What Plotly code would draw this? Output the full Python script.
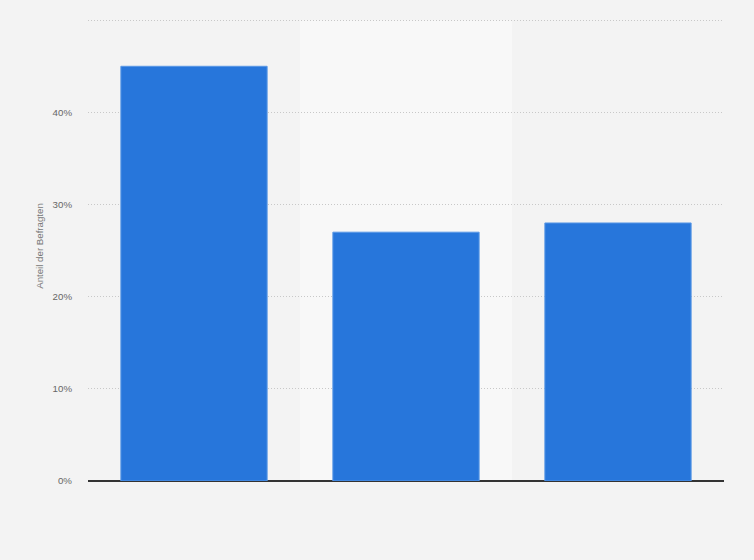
import plotly.graph_objects as go

categories = ["Kategorie 1", "Kategorie 2", "Kategorie 3"]
values = [45, 27, 28]
tick_vals = [0, 10, 20, 30, 40, 50]
tick_text = ["0%", "10%", "20%", "30%", "40%", ""]

fig = go.Figure()
fig.add_trace(go.Bar(
    x=categories, y=values,
    marker=dict(color="#2776db", line=dict(color="#5a98e6", width=1)),
    width=0.69,
    hovertemplate="%{y}%<extra></extra>",
))

fig.add_shape(type="rect", xref="x", yref="y", x0=0.5, x1=1.5, y0=0, y1=tick_vals[-1],
              fillcolor="#f8f8f8", line=dict(width=0), layer="below")

fig.update_layout(
    width=754, height=560,
    margin=dict(l=88, r=30, t=11, b=79),
    paper_bgcolor="#f3f3f3", plot_bgcolor="#f3f3f3",
    font=dict(family="Liberation Sans, Arial, sans-serif", size=10, color="#666666"),
    showlegend=False,
    bargap=0.31,
)
fig.update_xaxes(showticklabels=False, showgrid=False, zeroline=False,
                 showline=False, range=[-0.5, 2.5])
fig.update_yaxes(range=[0, 51], tickvals=tick_vals, ticktext=tick_text,
                 showgrid=True, gridcolor="#c8c8c8", griddash="1px,2px", gridwidth=1,
                 zeroline=True, zerolinecolor="#333333", zerolinewidth=1.5,
                 ticks="", ticklabelstandoff=15,
                 title=dict(text="Anteil der Befragten", font=dict(size=9.7, color="#777777"), standoff=7),
                 tickfont=dict(size=9.7, color="#666666"))

fig.write_html("out.html", config={"displayModeBar": False},
               post_script="document.body.style.margin='0';document.body.style.background='#f3f3f3';")
